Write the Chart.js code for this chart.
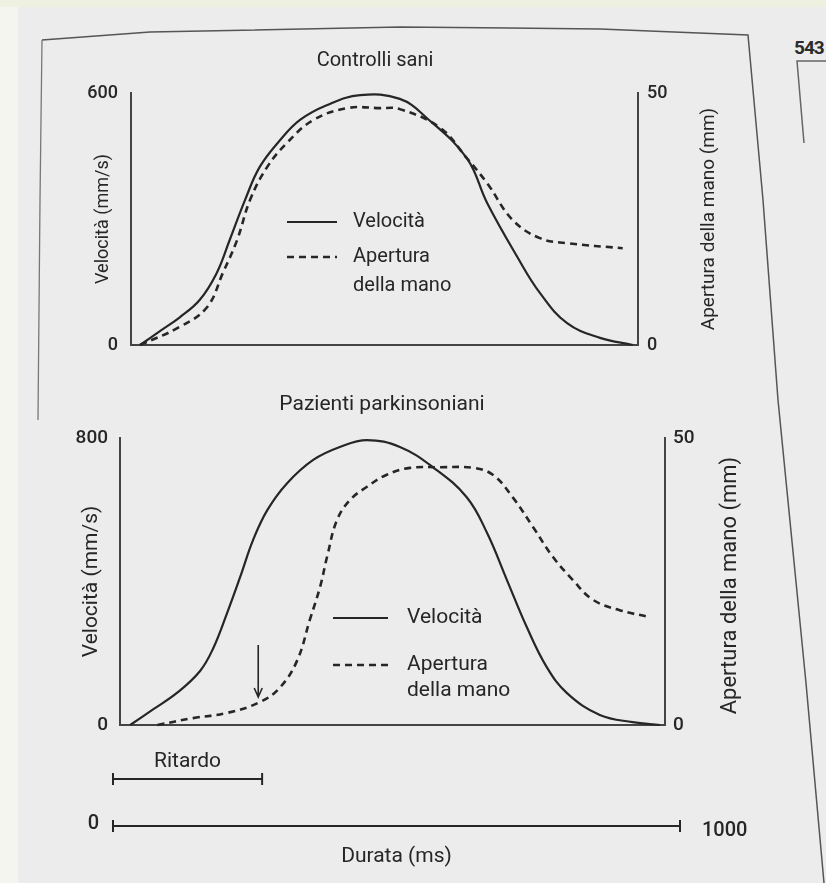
<!DOCTYPE html>
<html>
<head>
<meta charset="utf-8">
<title>Velocità e apertura della mano</title>
<script src="https://cdn.jsdelivr.net/npm/chart.js@4.4.1/dist/chart.umd.min.js"></script>
<style>
  html, body { margin: 0; padding: 0; }
  body { width: 826px; height: 883px; position: relative; overflow: hidden; background: #f4f5ef; }
  #page { position: absolute; left: 18px; top: 7px; width: 808px; height: 876px; background: #ececec; }
  #topStrip { position: absolute; left: 0; top: 0; width: 826px; height: 7px; background: #eef1df; }
  svg, canvas { position: absolute; left: 0; top: 0; }
  #pageNum { position: absolute; left: 794px; top: 36px; font: bold 19px Roboto, sans-serif; color: #2b2b2b; letter-spacing: -1px; }
</style>
</head>
<body>
<div id="page"></div>
<div id="topStrip"></div>
<svg width="826" height="883">
  <polyline points="42,40 150,32 400,27 600,29 748,35 763,200 778,400 806,683 824,883" fill="none" stroke="#555" stroke-width="1.5"/>
  <polyline points="42,40 40,200 38,420" fill="none" stroke="#777" stroke-width="1.3"/>
  <polyline points="826,61 797,61 804,143" fill="none" stroke="#666" stroke-width="1.5"/>
</svg>
<div id="pageNum">543</div>
<canvas id="sani" width="826" height="883"></canvas>
<canvas id="parkinson" width="826" height="883"></canvas>
<canvas id="durata" width="826" height="883"></canvas>
<script>
// Controlli sani
const saniVelTime = [48, 83, 118, 153, 183, 206, 233, 259, 295, 330, 377, 436, 506, 554, 624, 660, 713, 753, 801, 859, 917];
const saniVel = [0, 33, 66, 107, 171, 250, 345, 424, 488, 536, 571, 595, 586, 540, 445, 338, 210, 124, 52, 17, 0];
const saniApTime = [48, 118, 166, 194, 219, 242, 272, 307, 353, 413, 471, 506, 577, 624, 660, 705, 753, 801, 899];
const saniAp = [0, 3.6, 7.5, 14.3, 20.8, 28.8, 35.3, 40.1, 44.6, 47.0, 47.0, 46.8, 43.1, 37.1, 32.1, 24.8, 21.2, 20.2, 19.2];

// Pazienti parkinsoniani
const parkVelTime = [30, 71, 113, 153, 176, 201, 224, 247, 272, 307, 353, 400, 448, 506, 564, 624, 660, 695, 730, 765, 801, 859, 917, 965];
const parkVel = [0, 44, 90, 150, 212, 312, 412, 516, 599, 674, 739, 775, 794, 775, 719, 635, 535, 404, 273, 162, 89, 28, 8, 0];
const parkApTime = [78, 141, 201, 259, 295, 325, 347, 365, 378, 395, 418, 448, 483, 524, 577, 635, 670, 705, 741, 776, 811, 847, 894, 947];
const parkAp = [0, 1.2, 2.1, 4.0, 6.6, 11.3, 18.3, 24.0, 29.5, 35.7, 39.2, 41.5, 43.6, 44.8, 44.9, 44.8, 43.6, 39.7, 34.5, 29.3, 25.3, 21.8, 20.0, 18.8];

// axis ranges and annotations (ms, mm/s, mm)
const saniTimeRange = [32, 926];
const parkTimeRange = [12, 974];
const saniVelMax = 600;
const parkVelMax = 800;
const apMax = 50;
const onsetArrow = { time: 256, from: 223, to: 78 };
const durataTicks = [0, 1000];
const ritardoMs = 263;
const legendLabels = [['Velocità'], ['Apertura', 'della mano']];

const ink = '#262626';
const axisInk = '#444';
const fontFamily = 'Roboto, "Noto Sans", sans-serif';

function toPoints(xs, ys) {
    return xs.map((x, i) => ({ x: x, y: ys[i] }));
}

// titles, legend, right-hand axis title and arrow
const panelDecor = {
    id: 'panelDecor',
    afterDraw(chart, args, o) {
        const ctx = chart.ctx;
        ctx.save();
        ctx.fillStyle = ink;
        ctx.textBaseline = 'middle';

        if (o.title) {
            ctx.font = o.titleSize + 'px ' + fontFamily;
            ctx.textAlign = 'center';
            ctx.fillText(o.title, o.titleX, o.titleY);
        }

        if (o.rightTitle) {
            const yA = chart.scales.yA;
            ctx.save();
            ctx.translate(o.rightTitleX, (yA.top + yA.bottom) / 2 + (o.rightTitleShift || 0));
            ctx.rotate(-Math.PI / 2);
            ctx.font = o.rightTitleSize + 'px ' + fontFamily;
            ctx.textAlign = 'center';
            ctx.fillText(o.rightTitle, 0, 0);
            ctx.restore();
        }

        if (o.legend) {
            const lg = o.legend;
            chart.data.datasets.forEach((ds, i) => {
                const y = lg.rows[i];
                ctx.save();
                ctx.strokeStyle = ds.borderColor;
                ctx.lineWidth = ds.borderWidth;
                ctx.setLineDash(ds.borderDash || []);
                ctx.beginPath();
                ctx.moveTo(lg.x, y);
                ctx.lineTo(lg.x + lg.lineLength, y);
                ctx.stroke();
                ctx.restore();
                ctx.font = lg.size + 'px ' + fontFamily;
                ctx.textAlign = 'left';
                legendLabels[i].forEach((txt, j) => {
                    ctx.fillText(txt, lg.textX, y + j * lg.lineHeight);
                });
            });
        }

        if (o.arrow) {
            const x = chart.scales.x.getPixelForValue(o.arrow.time);
            const y1 = chart.scales.yV.getPixelForValue(o.arrow.from);
            const y2 = chart.scales.yV.getPixelForValue(o.arrow.to);
            ctx.strokeStyle = ink;
            ctx.lineWidth = 1.6;
            ctx.beginPath();
            ctx.moveTo(x, y1);
            ctx.lineTo(x, y2);
            ctx.moveTo(x - 4, y2 - 9);
            ctx.lineTo(x, y2);
            ctx.lineTo(x + 4, y2 - 9);
            ctx.stroke();
        }
        ctx.restore();
    }
};

function panelChart(id, p) {
    return new Chart(document.getElementById(id), {
        type: 'line',
        data: {
            datasets: [
                {
                    label: 'Velocità',
                    data: toPoints(p.velTime, p.vel),
                    yAxisID: 'yV',
                    borderColor: ink,
                    borderWidth: 2.2,
                    pointRadius: 0,
                    tension: 0.4,
                    clip: false
                },
                {
                    label: 'Apertura della mano',
                    data: toPoints(p.apTime, p.ap),
                    yAxisID: 'yA',
                    borderColor: ink,
                    borderWidth: 2.6,
                    borderDash: [7, 5],
                    pointRadius: 0,
                    tension: 0.4,
                    clip: false
                }
            ]
        },
        options: {
            responsive: false,
            animation: false,
            devicePixelRatio: 1,
            layout: { padding: p.pad },
            plugins: {
                legend: { display: false },
                tooltip: { enabled: false },
                panelDecor: p.decor
            },
            scales: {
                x: {
                    type: 'linear',
                    min: p.timeRange[0],
                    max: p.timeRange[1],
                    grid: { display: false },
                    ticks: { display: false },
                    border: { color: axisInk, width: 2 },
                    afterFit: s => { s.height = 0; }
                },
                yV: {
                    position: 'left',
                    min: 0,
                    max: p.velMax,
                    grid: { display: false },
                    border: { color: axisInk, width: 2 },
                    ticks: { stepSize: p.velMax, padding: p.tickPadLeft, color: ink, font: { family: fontFamily, size: p.tickSize, weight: '500' } },
                    title: { display: true, text: 'Velocità (mm/s)', color: ink, font: { family: fontFamily, size: p.axisTitleSize }, padding: { top: p.axisTitlePad, bottom: 0 } },
                    afterFit: s => { s.width = p.leftWidth; }
                },
                yA: {
                    position: 'right',
                    min: 0,
                    max: apMax,
                    grid: { display: false },
                    border: { color: axisInk, width: 2 },
                    ticks: { stepSize: apMax, padding: p.tickPadRight, color: ink, font: { family: fontFamily, size: p.tickSize, weight: '500' } },
                    afterFit: s => { s.width = p.rightWidth; }
                }
            }
        },
        plugins: [panelDecor]
    });
}

function durataChart() {
    const capped = {
        borderColor: ink,
        borderWidth: 2,
        pointStyle: 'line',
        rotation: 90,
        pointRadius: 6,
        pointBorderWidth: 2,
        pointBorderColor: ink,
        clip: false
    };
    const labelsPlugin = {
        id: 'durataLabels',
        afterDraw(chart) {
            const ctx = chart.ctx;
            const x = chart.scales.x;
            const y = chart.scales.y;
            ctx.save();
            ctx.fillStyle = ink;
            ctx.textBaseline = 'middle';
            ctx.font = '500 20px ' + fontFamily;
            ctx.textAlign = 'right';
            ctx.fillText(String(durataTicks[0]), x.getPixelForValue(durataTicks[0]) - 14, y.getPixelForValue(0) - 2);
            ctx.textAlign = 'left';
            ctx.fillText(String(durataTicks[1]), x.getPixelForValue(durataTicks[1]) + 22, y.getPixelForValue(0) + 5);
            ctx.textAlign = 'center';
            ctx.font = '21px ' + fontFamily;
            ctx.fillText('Ritardo', x.getPixelForValue(ritardoMs / 2), y.getPixelForValue(1) - 17);
            ctx.restore();
        }
    };
    return new Chart(document.getElementById('durata'), {
        type: 'line',
        data: {
            datasets: [
                Object.assign({ label: 'Durata', data: [{ x: durataTicks[0], y: 0 }, { x: durataTicks[1], y: 0 }] }, capped),
                Object.assign({ label: 'Ritardo', data: [{ x: 0, y: 1 }, { x: ritardoMs, y: 1 }] }, capped)
            ]
        },
        options: {
            responsive: false,
            animation: false,
            devicePixelRatio: 1,
            layout: { padding: { left: 113, right: 146, top: 779, bottom: 0 } },
            plugins: { legend: { display: false }, tooltip: { enabled: false } },
            scales: {
                x: {
                    type: 'linear',
                    min: durataTicks[0],
                    max: durataTicks[1],
                    grid: { display: false },
                    border: { display: false },
                    ticks: { display: false },
                    title: { display: true, text: 'Durata (ms)', color: ink, font: { family: fontFamily, size: 21 }, padding: { top: 0, bottom: 14 } },
                    afterFit: s => { s.height = 57; }
                },
                y: { type: 'linear', min: 0, max: 1, display: false }
            }
        },
        plugins: [labelsPlugin]
    });
}

window.onload = function() {
    panelChart('sani', {
        velTime: saniVelTime, vel: saniVel, apTime: saniApTime, ap: saniAp,
        timeRange: saniTimeRange, velMax: saniVelMax,
        pad: { left: 70, right: 138, top: 93, bottom: 538 },
        leftWidth: 61, rightWidth: 50,
        tickSize: 18, tickPadLeft: 5, tickPadRight: 1, axisTitleSize: 18, axisTitlePad: 23,
        decor: {
            title: 'Controlli sani', titleSize: 20, titleX: 375, titleY: 61,
            rightTitle: 'Apertura della mano (mm)', rightTitleSize: 19, rightTitleX: 709,
            legend: { x: 287, lineLength: 50, textX: 353, rows: [222, 257], lineHeight: 29, size: 20 }
        }
    });
    panelChart('parkinson', {
        velTime: parkVelTime, vel: parkVel, apTime: parkApTime, ap: parkAp,
        timeRange: parkTimeRange, velMax: parkVelMax,
        pad: { left: 55, right: 111, top: 438, bottom: 158 },
        leftWidth: 65, rightWidth: 50,
        tickSize: 19, tickPadLeft: 4, tickPadRight: 0, axisTitleSize: 21, axisTitlePad: 24,
        decor: {
            title: 'Pazienti parkinsoniani', titleSize: 21, titleX: 382, titleY: 405,
            rightTitle: 'Apertura della mano (mm)', rightTitleSize: 22, rightTitleX: 730, rightTitleShift: 4,
            legend: { x: 333, lineLength: 55, textX: 407, rows: [618, 665], lineHeight: 26, size: 21 },
            arrow: onsetArrow
        }
    });
    durataChart();
};
</script>
</body>
</html>
